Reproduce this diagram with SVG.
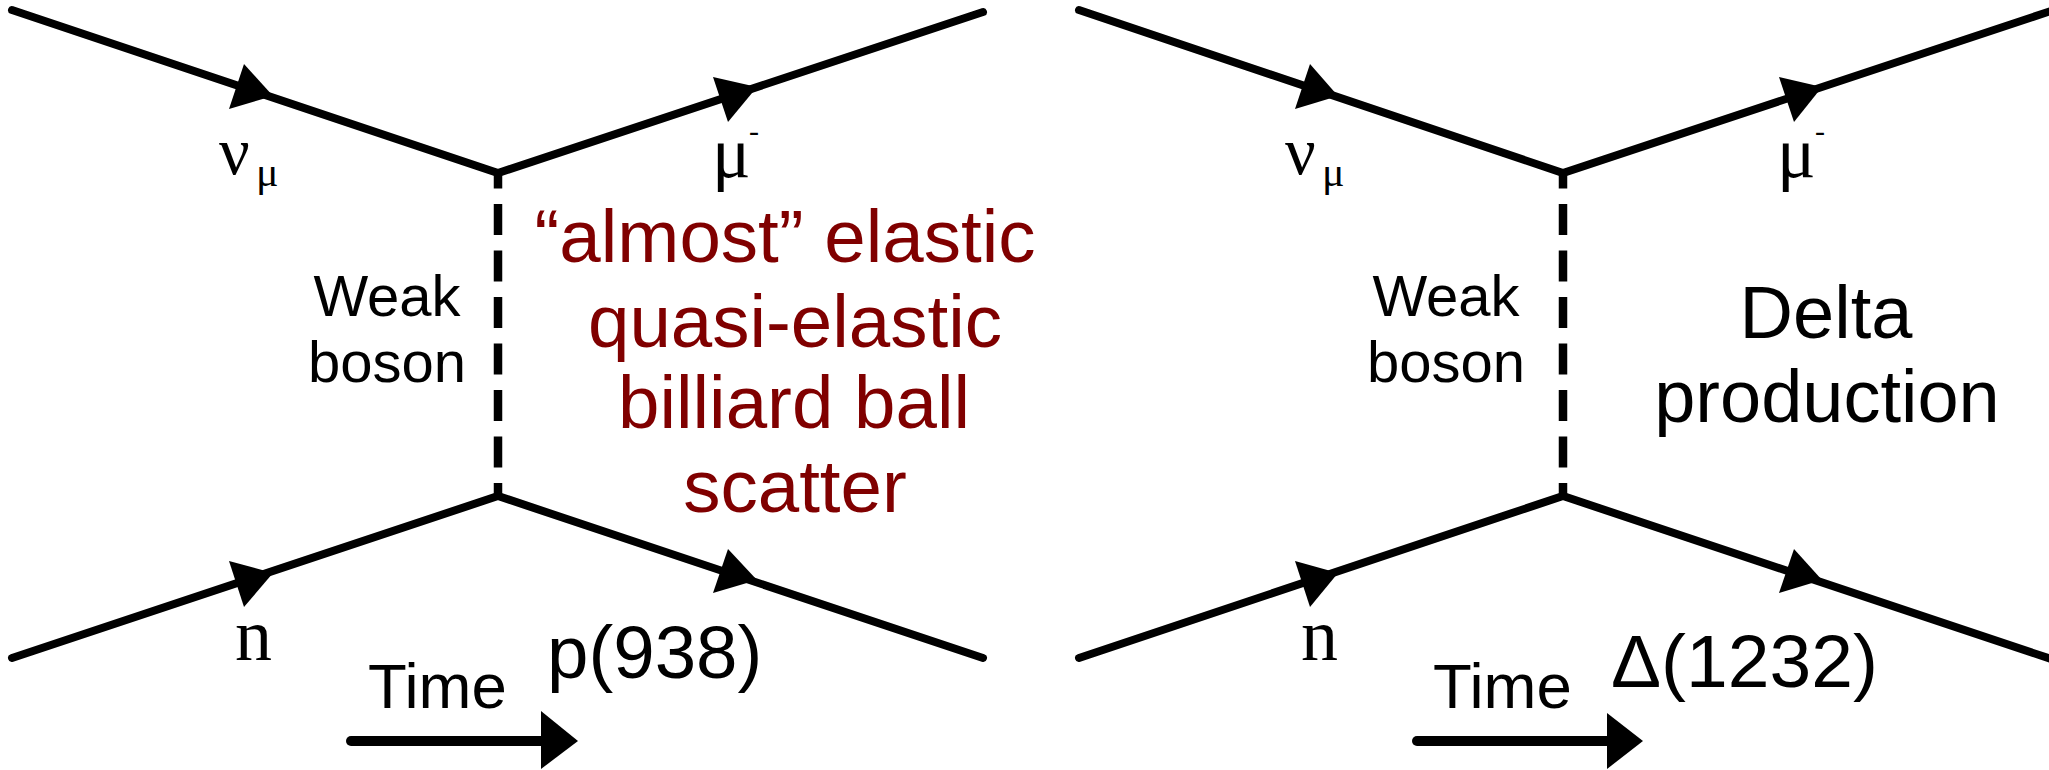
<svg xmlns="http://www.w3.org/2000/svg" width="2049" height="770" viewBox="0 0 2049 770">
<style>
.fermion{fill:none;stroke:#000;stroke-width:8;stroke-linecap:round;stroke-linejoin:miter}
.boson{fill:none;stroke:#000;stroke-width:8.5;stroke-dasharray:31 15.5;stroke-dashoffset:15.5}
.head{fill:#000;stroke:none}
.timeline{fill:none;stroke:#000;stroke-width:10;stroke-linecap:round}
text{font-family:"Liberation Sans",Arial,sans-serif;fill:#000}
.sym{font-family:"Liberation Serif","Times New Roman",serif}
.wk{font-size:58px;text-anchor:middle}
.red{font-size:74.5px;text-anchor:middle;fill:#800000}
.blk{font-size:74px;text-anchor:middle}
.time{font-size:63.5px}
</style>
<rect width="2049" height="770" fill="#fff"/>
<g id="connectors">
<g id="connectors-left">
<path class="fermion" d="M12 10 L498 173 L983 12"/>
<path class="fermion" d="M12 658 L498 496 L983 658"/>
<path class="boson" d="M498 173 V495"/>
<polygon class="head" points="273,96 244,64 229,109"/>
<polygon class="head" points="757,87 713,77 728,122"/>
<polygon class="head" points="273,573 229,561 244,607"/>
<polygon class="head" points="757,580 728,549 713,593"/>
<path class="timeline" d="M351 741 H545"/>
<polygon class="head" points="541,711 578,741 541,769"/>
</g>
<g id="connectors-right">
<path class="fermion" d="M1079 10 L1563 173 L2060 8"/>
<path class="fermion" d="M1079 658 L1563 496 L2060 662"/>
<path class="boson" d="M1563 173 V495"/>
<polygon class="head" points="1338,96 1310,64 1295,109"/>
<polygon class="head" points="1822,87 1779,77 1794,122"/>
<polygon class="head" points="1338,573 1295,561 1310,607"/>
<polygon class="head" points="1822,580 1794,549 1779,593"/>
<path class="timeline" d="M1417 741 H1610"/>
<polygon class="head" points="1607,713 1643,741 1607,769"/>
</g>
</g>
<g id="label-numu-left"><text class="sym" x="219" y="174" font-size="68">ν</text><text class="sym" x="256" y="186" font-size="42">μ</text></g>
<g id="label-mu-left"><text class="sym" x="712" y="177" font-size="72">μ</text><text class="sym" x="749" y="141" font-size="30">-</text></g>
<g id="label-weak-left"><text class="wk" x="387" y="316">Weak</text><text class="wk" x="387" y="382">boson</text></g>
<g id="label-process-left">
<text class="red" x="785" y="262">“almost” elastic</text>
<text class="red" x="795" y="347">quasi-elastic</text>
<text class="red" x="794" y="428">billiard ball</text>
<text class="red" x="795" y="512">scatter</text>
</g>
<g id="label-n-left"><text class="sym" x="235" y="660" font-size="74">n</text></g>
<g id="label-time-left"><text class="time" x="368" y="708">Time</text></g>
<g id="label-p"><text x="547" y="678" font-size="74.5">p(938)</text></g>
<g id="label-numu-right"><text class="sym" x="1285" y="174" font-size="68">ν</text><text class="sym" x="1322" y="186" font-size="42">μ</text></g>
<g id="label-mu-right"><text class="sym" x="1777" y="177" font-size="72">μ</text><text class="sym" x="1815" y="141" font-size="30">-</text></g>
<g id="label-weak-right"><text class="wk" x="1446" y="316">Weak</text><text class="wk" x="1446" y="382">boson</text></g>
<g id="label-process-right">
<text class="blk" x="1826" y="338">Delta</text>
<text class="blk" x="1827" y="422">production</text>
</g>
<g id="label-n-right"><text class="sym" x="1301" y="660" font-size="74">n</text></g>
<g id="label-time-right"><text class="time" x="1433" y="708">Time</text></g>
<g id="label-delta"><text x="1611" y="687" font-size="75">Δ(1232)</text></g>
</svg>
